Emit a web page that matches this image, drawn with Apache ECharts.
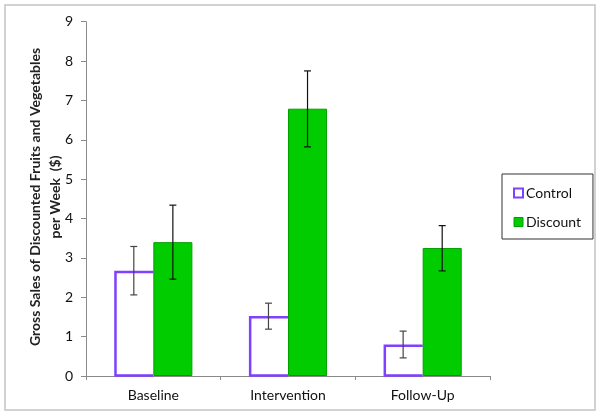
<!DOCTYPE html>
<html>
<head>
<meta charset="utf-8">
<script src="https://cdn.jsdelivr.net/npm/echarts@6/dist/echarts.min.js"></script>
<style>
html,body{margin:0;padding:0;background:#fff;}
#chart{width:603px;height:417px;}
</style>
</head>
<body>
<div id="chart"></div>
<script>
const categories = ['Baseline', 'Intervention', 'Follow-Up'];
const controlValues = [2.67, 1.52, 0.80];
const discountValues = [3.40, 6.79, 3.25];
const controlLow = [2.06, 1.19, 0.46];
const controlHigh = [3.29, 1.85, 1.14];
const discountLow = [2.46, 5.82, 2.67];
const discountHigh = [4.34, 7.75, 3.82];
const yTicks = [0, 1, 2, 3, 4, 5, 6, 7, 8, 9];

const FONT = 'Lato, "Open Sans", sans-serif';
const CAT_GAP = 0.42;
const barFrac = (1 - CAT_GAP) / 2;
const PURPLE = '#7f40ff';

function errorSeries(low, high, sign, color) {
  return {
    type: 'custom',
    silent: true,
    z: 10,
    data: categories.map((c, i) => [i, low[i], high[i]]),
    renderItem: function (params, api) {
      const idx = api.value(0);
      const pLow = api.coord([idx, api.value(1)]);
      const pHigh = api.coord([idx, api.value(2)]);
      const band = api.size([1, 0])[0];
      const x = pLow[0] + sign * band * barFrac / 2;
      const cap = 3.5;
      const style = { stroke: color, lineWidth: 1.2 };
      return {
        type: 'group',
        children: [
          { type: 'line', shape: { x1: x, y1: pLow[1], x2: x, y2: pHigh[1] }, style: style },
          { type: 'line', shape: { x1: x - cap, y1: pLow[1], x2: x + cap, y2: pLow[1] }, style: style },
          { type: 'line', shape: { x1: x - cap, y1: pHigh[1], x2: x + cap, y2: pHigh[1] }, style: style }
        ]
      };
    }
  };
}

// outline of the control bars (left, top and bottom sides; right side hidden by the adjacent bar)
const controlOutline = {
  type: 'custom',
  silent: true,
  z: 3,
  data: categories.map((c, i) => [i, controlValues[i]]),
  renderItem: function (params, api) {
    const idx = api.value(0);
    const top = api.coord([idx, api.value(1)]);
    const base = api.coord([idx, 0]);
    const band = api.size([1, 0])[0];
    const w = band * barFrac;
    const xr = top[0];
    const xl = xr - w + 1.2;
    return {
      type: 'polyline',
      shape: { points: [[xr, base[1] - 0.5], [xl, base[1] - 0.5], [xl, top[1] + 1.2], [xr, top[1] + 1.2]] },
      style: { stroke: PURPLE, lineWidth: 2.5, fill: null }
    };
  }
};

const chart = echarts.init(document.getElementById('chart'), null, { renderer: 'canvas' });
chart.setOption({
  animation: false,
  backgroundColor: '#fff',
  textStyle: { fontFamily: FONT },
  grid: { left: 86, right: 113, top: 21.7, bottom: 41, containLabel: false },
  graphic: [
    {
      type: 'rect', z: -10,
      shape: { x: 5, y: 5, width: 590, height: 405 },
      style: { fill: 'none', stroke: '#c4c4c4', lineWidth: 1.5 }
    },
    {
      type: 'text',
      x: 45, y: 197, rotation: Math.PI / 2,
      style: {
        text: 'Gross Sales of Discounted Fruits and Vegetables\nper Week  ($)',
        fontFamily: FONT, fontSize: 14, fontWeight: 'bold', fill: '#222',
        align: 'center', verticalAlign: 'middle', lineHeight: 20
      }
    }
  ],
  legend: {
    orient: 'vertical',
    left: 502, top: 174,
    padding: [12, 12, 10, 11],
    itemGap: 15,
    itemWidth: 9, itemHeight: 9,
    icon: 'rect',
    borderColor: '#333', borderWidth: 1,
    textStyle: { fontFamily: FONT, fontSize: 14, color: '#111', padding: [0, 0, 0, -2] },
    data: [
      { name: 'Control', itemStyle: { color: '#ffffff', borderColor: PURPLE, borderWidth: 2 } },
      { name: 'Discount', itemStyle: { color: '#00cc00', borderColor: '#00a000', borderWidth: 1 } }
    ]
  },
  xAxis: {
    type: 'category',
    data: categories,
    axisLine: { lineStyle: { color: '#8a8a8a', width: 1 } },
    axisTick: { show: true, length: 4, lineStyle: { color: '#8a8a8a' } },
    axisLabel: { fontFamily: FONT, fontSize: 14, color: '#111', margin: 12 }
  },
  yAxis: {
    type: 'value',
    min: 0, max: 9, interval: 1,
    axisLine: { show: true, lineStyle: { color: '#8a8a8a', width: 1 } },
    axisTick: { show: true, length: 5, lineStyle: { color: '#8a8a8a' } },
    splitLine: { show: false },
    axisLabel: {
      fontFamily: FONT, fontSize: 14, color: '#111', margin: 13,
      formatter: function (v) { return yTicks.indexOf(v) >= 0 ? String(v) : ''; }
    }
  },
  series: [
    {
      name: 'Control', type: 'bar',
      data: controlValues,
      barGap: '0%', barCategoryGap: (CAT_GAP * 100) + '%',
      itemStyle: { color: '#ffffff', borderWidth: 0 }
    },
    {
      name: 'Discount', type: 'bar',
      data: discountValues,
      barGap: '0%', barCategoryGap: (CAT_GAP * 100) + '%',
      z: 4,
      itemStyle: { color: '#00cc00', borderColor: '#00a000', borderWidth: 1 }
    },
    controlOutline,
    errorSeries(controlLow, controlHigh, -1, '#444'),
    errorSeries(discountLow, discountHigh, 1, '#111')
  ]
});
</script>
</body>
</html>
